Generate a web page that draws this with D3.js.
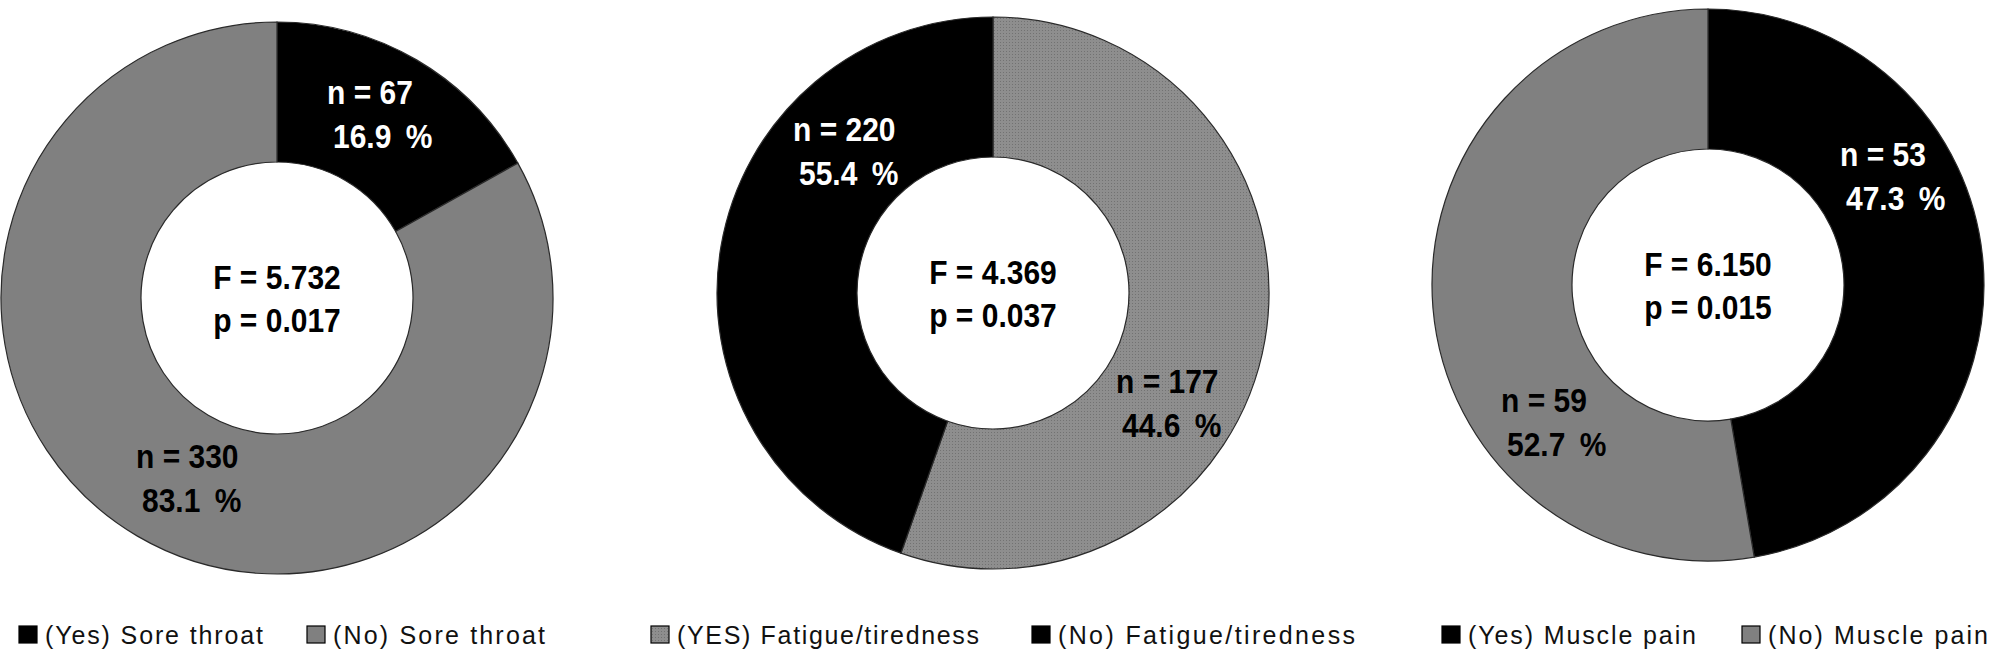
<!DOCTYPE html>
<html>
<head>
<meta charset="utf-8">
<script src="https://cdn.jsdelivr.net/npm/d3@7"></script>
<style>
  html, body { margin: 0; padding: 0; background: #fff; }
  svg { display: block; }
</style>
</head>
<body>
<svg id="chart" width="1991" height="652"></svg>
<script>
// ---------------- DATA ----------------
const categories1 = ["(Yes) Sore throat", "(No) Sore throat"];
const values1 = [67, 330];
const percents1 = ["16.9 %", "83.1 %"];
const stats1 = ["F = 5.732", "p = 0.017"];

const categories2 = ["(YES) Fatigue/tiredness", "(No) Fatigue/tiredness"];
const values2 = [220, 177];
const percents2 = ["55.4 %", "44.6 %"];
const stats2 = ["F = 4.369", "p = 0.037"];

const categories3 = ["(Yes) Muscle pain", "(No) Muscle pain"];
const values3 = [53, 59];
const percents3 = ["47.3 %", "52.7 %"];
const stats3 = ["F = 6.150", "p = 0.015"];

// ---------------- STYLE / LAYOUT ----------------
const GRAY = "#808080";
const panels = [
  { cats: categories1, vals: values1, pcts: percents1, stats: stats1,
    center: [277, 298], fills: ["#000", GRAY], legendFills: ["#000", GRAY],
    labelOff: [[50, -194], [-141, 170]], labelColors: ["#fff", "#000"],
    legendX: [45, 333], legendW: [218, 212] },
  { cats: categories2, vals: values2, pcts: percents2, stats: stats2,
    center: [993, 293], fills: ["url(#dots)", "#000"], legendFills: ["url(#dots)", "#000"],
    labelOff: [[-200, -152], [123, 100]], labelColors: ["#fff", "#000"],
    legendX: [677, 1058], legendW: [302, 297] },
  { cats: categories3, vals: values3, pcts: percents3, stats: stats3,
    center: [1708, 285], fills: ["#000", GRAY], legendFills: ["#000", GRAY],
    labelOff: [[132, -119], [-207, 127]], labelColors: ["#fff", "#000"],
    legendX: [1468, 1768], legendW: [228, 220] }
];
const R_OUT = 276, R_IN = 136;
const LEGEND_BASE = 644;
const FONT = "Liberation Sans, Arial, sans-serif";

const svg = d3.select("#chart");
svg.append("rect").attr("width", 1991).attr("height", 652).attr("fill", "#fff");

// dotted texture for the fatigue gray slice
const defs = svg.append("defs");
const pat = defs.append("pattern").attr("id", "dots")
  .attr("width", 3).attr("height", 3).attr("patternUnits", "userSpaceOnUse");
pat.append("rect").attr("width", 3).attr("height", 3).attr("fill", "#8e8e8e");
pat.append("rect").attr("x", 1).attr("y", 1).attr("width", 1).attr("height", 1).attr("fill", "#727272");

const pie = d3.pie().sort(null).value(d => d).startAngle(0).endAngle(2 * Math.PI);
const arc = d3.arc().innerRadius(R_IN).outerRadius(R_OUT);

function boldLabel(g, x, y, str, color, anchor, extra) {
  const t = g.append("text")
    .attr("transform", `translate(${x},${y}) scale(1,1.12)`)
    .attr("font-family", FONT)
    .attr("font-weight", "bold")
    .attr("font-size", 30)
    .attr("fill", color)
    .attr("text-anchor", anchor || "start")
    .text(str);
  if (extra) t.attr("word-spacing", extra);
  return t;
}

panels.forEach(p => {
  const g = svg.append("g").attr("transform", `translate(${p.center[0]},${p.center[1]})`);

  g.selectAll("path.slice")
    .data(pie(p.vals))
    .join("path")
    .attr("class", "slice")
    .attr("d", arc)
    .attr("fill", (d, i) => p.fills[i])
    .attr("stroke", "#2a2a2a")
    .attr("stroke-width", 1.2);

  // data labels
  p.vals.forEach((v, i) => {
    const [dx, dy] = p.labelOff[i];
    boldLabel(g, dx, dy, "n = " + v, p.labelColors[i]);
    boldLabel(g, dx + 6, dy + 44, p.pcts[i], p.labelColors[i], "start", 6);
  });

  // center statistics
  boldLabel(g, 0, -9, p.stats[0], "#000", "middle");
  boldLabel(g, 0, 34, p.stats[1], "#000", "middle");

  // legend
  p.cats.forEach((c, i) => {
    const x = p.legendX[i];
    svg.append("rect")
      .attr("x", x - 26).attr("y", LEGEND_BASE - 18)
      .attr("width", 18).attr("height", 17)
      .attr("fill", p.legendFills[i])
      .attr("stroke", "#000").attr("stroke-width", 1.2);
    svg.append("text")
      .attr("x", x).attr("y", LEGEND_BASE)
      .attr("font-family", FONT)
      .attr("font-size", 25)
      .attr("fill", "#111")
      .attr("textLength", p.legendW[i])
      .attr("lengthAdjust", "spacing")
      .text(c);
  });
});
</script>
</body>
</html>
